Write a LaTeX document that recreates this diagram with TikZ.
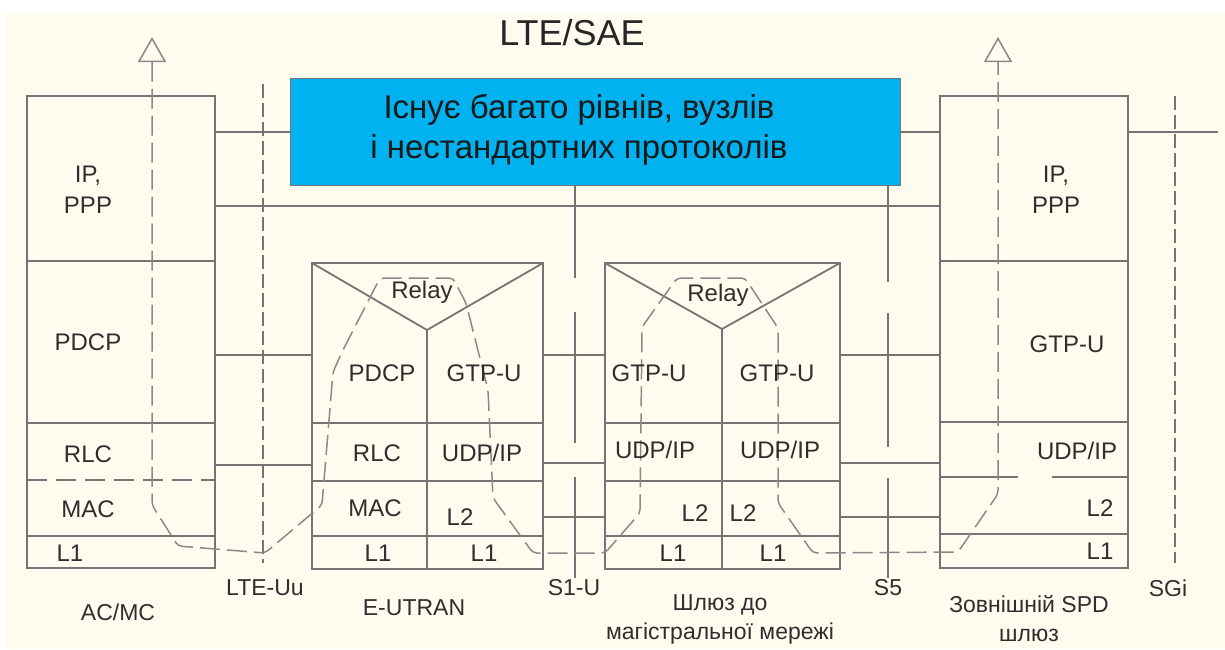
\documentclass[tikz,border=0pt]{standalone}
\usepackage{fontspec}
\setmainfont{Liberation Sans}
\usetikzlibrary{arrows.meta}
\definecolor{bgcream}{HTML}{FFFCEF}
\definecolor{linegray}{HTML}{747474}
\definecolor{txtgray}{HTML}{2E2E2E}
\definecolor{skyblue}{HTML}{00B2F0}
\begin{document}
\begin{tikzpicture}[x=1pt, y=-1pt,
    layer/.style={draw=linegray, line width=1.8pt},
    iface/.style={draw=linegray, line width=1.6pt, dash pattern=on 14pt off 5pt},
    flow/.style={draw=linegray!85, line width=1.5pt, dash pattern=on 20pt off 7pt, rounded corners=4pt},
    lbl/.style={text=txtgray, font=\fontsize{24}{31}\selectfont, inner sep=0pt, align=center},
    bottomlbl/.style={text=txtgray, font=\fontsize{23}{29}\selectfont, inner sep=0pt, align=center}]
    \useasboundingbox (0,0) rectangle (1225,649);
    \fill[bgcream] (6,13) rectangle (1225,649);

    % Interface lines between the stacks
    \draw[layer] (215,132) -- (290,132) (900,132) -- (940,132) (1128,132) -- (1218,132);
    \draw[layer] (215,206) -- (940,206);
    \draw[layer] (215,355) -- (312,355) (215,465) -- (312,465);
    \draw[layer] (543,355) -- (605,355) (543,463) -- (605,463) (543,517) -- (605,517);
    \draw[layer] (840,355) -- (940,355) (840,463) -- (940,463) (840,517) -- (940,517);

    % AC/MC stack
    \draw[layer] (27,96) rectangle (215,568);
    \draw[layer] (27,261) -- (215,261) (27,423) -- (215,423) (27,536) -- (215,536);
    \draw[layer, dash pattern=on 20pt off 9pt] (27,480) -- (215,480);

    % E-UTRAN stack
    \draw[layer] (312,263) rectangle (543,569);
    \draw[layer] (312,263) -- (427,330) -- (543,263) (427,330) -- (427,569);
    \draw[layer] (312,423) -- (543,423) (312,481) -- (543,481) (312,536) -- (543,536);

    % Core gateway stack
    \draw[layer] (605,263) rectangle (840,569);
    \draw[layer] (605,263) -- (722,329) -- (840,263) (722,329) -- (722,569);
    \draw[layer] (605,423) -- (840,423) (605,481) -- (840,481) (605,536) -- (840,536);

    % External gateway stack
    \draw[layer] (940,96) rectangle (1128,568);
    \draw[layer] (940,261) -- (1128,261) (940,422) -- (1128,422) (940,534) -- (1128,534);
    \draw[layer] (940,477) -- (1018,477) (1052,477) -- (1128,477);

    % Blue note
    \node[fill=skyblue, draw=linegray, line width=0.8pt, minimum width=610pt, minimum height=107pt,
          inner sep=0pt] (note) at (595,131.5) {};
    \node[text=black!90, font=\fontsize{33}{40}\selectfont, align=center] (notetxt) at (579,130)
        {Існує багато рівнів, вузлів\\і нестандартних протоколів};

    % Reference points S1-U, S5 and the dashed LTE-Uu, SGi
    \draw[layer] (575,185) -- (575,278) (575,312) -- (575,443) (575,477) -- (575,578);
    \draw[layer] (888,185) -- (888,282) (888,313) -- (888,447) (888,478) -- (888,578);
    \draw[iface] (263,84) -- (263,563);
    \draw[iface] (1175,96) -- (1175,563);

    % User data path
    \draw[flow, {Triangle[open, length=25pt, width=28pt, line width=1.5pt]}-{Triangle[open, length=25pt, width=28pt, line width=1.5pt]}]
        (152,37) -- (152,505) -- (178,546) -- (265,553) -- (322,505) -- (333,372) -- (342,352)
        -- (380,278) -- (453,278) -- (466,303) -- (488,390) -- (493,498) -- (533,553) -- (605,553)
        -- (640,513) -- (642,327) -- (677,278) -- (745,278) -- (778,328) -- (778,503) -- (813,553)
        -- (958,552) -- (998,494) -- (998,37);

    % Title
    \node[text=black!85, font=\fontsize{36}{40}\selectfont, inner sep=0pt] (title) at (572,33) {LTE/SAE};

    % AC/MC labels
    \node[lbl] (ueip) at (88,190) {IP,\\PPP};
    \node[lbl] (uepdcp) at (88,342) {PDCP};
    \node[lbl] (uerlc) at (88,454) {RLC};
    \node[lbl] (uemac) at (88,509) {MAC};
    \node[lbl] (uel1) at (70,553) {L1};

    % E-UTRAN labels
    \node[lbl] (enbrelay) at (422,292) {Relay};
    \node[lbl] (enbpdcp) at (382,373) {PDCP};
    \node[lbl] (enbgtp) at (484,373) {GTP-U};
    \node[lbl] (enbrlc) at (377,453) {RLC};
    \node[lbl] (enbudp) at (482,453) {UDP/IP};
    \node[lbl] (enbmac) at (375,508) {MAC};
    \node[lbl] (enbltwo) at (460,517) {L2};
    \node[lbl] (enblone) at (378,553) {L1};
    \node[lbl] (enblonex) at (484,553) {L1};

    % Core gateway labels
    \node[lbl] (gwrelay) at (718,295) {Relay};
    \node[lbl] (gwgtpa) at (649,373) {GTP-U};
    \node[lbl] (gwgtpb) at (777,373) {GTP-U};
    \node[lbl] (gwudpa) at (655,450) {UDP/IP};
    \node[lbl] (gwudpb) at (780,450) {UDP/IP};
    \node[lbl] (gwltwoa) at (695,513) {L2};
    \node[lbl] (gwltwob) at (743,513) {L2};
    \node[lbl] (gwlonea) at (673,553) {L1};
    \node[lbl] (gwloneb) at (773,553) {L1};

    % External gateway labels
    \node[lbl] (pdnip) at (1056,190) {IP,\\PPP};
    \node[lbl] (pdngtp) at (1067,344) {GTP-U};
    \node[lbl] (pdnudp) at (1077,451) {UDP/IP};
    \node[lbl] (pdnltwo) at (1100,508) {L2};
    \node[lbl] (pdnlone) at (1100,551) {L1};

    % Names under the stacks
    \node[bottomlbl] (acmc) at (118,612) {AC/MC};
    \node[bottomlbl] (lteuu) at (265,588) {LTE-Uu};
    \node[bottomlbl] (eutran) at (414,608) {E-UTRAN};
    \node[bottomlbl] (sone) at (574,588) {S1-U};
    \node[bottomlbl] (gwname) at (720,619) {Шлюз до\\магістральної мережі};
    \node[bottomlbl] (sfive) at (888,588) {S5};
    \node[bottomlbl] (pdnname) at (1029,619) {Зовнішній SPD\\шлюз};
    \node[bottomlbl] (sgi) at (1168,588) {SGi};
\end{tikzpicture}
\end{document}
